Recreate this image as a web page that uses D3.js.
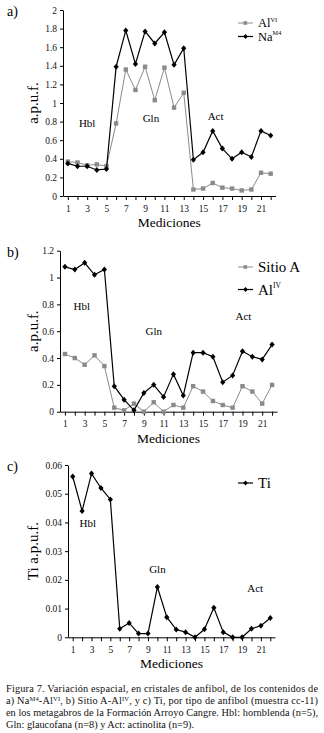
<!DOCTYPE html>
<html>
<head>
<meta charset="utf-8">
<script src="https://cdn.jsdelivr.net/npm/d3@7/dist/d3.min.js"></script>
<style>
  body { margin: 0; background: #fff; }
  svg, svg text { font-family: "Liberation Serif", "Times New Roman", "DejaVu Serif", serif; }
  .axis path, .axis line { stroke: #000; stroke-width: 1; }
  .axis text { font-size: 9.5px; fill: #111; }
</style>
</head>
<body>
<svg id="chart" width="324" height="733"></svg>
<script>
"use strict";

const mediciones = d3.range(1, 23);

// a) Na M4 - Al VI
const alVI = [0.37, 0.36, 0.33, 0.34, 0.32, 0.78, 1.36, 1.14, 1.39, 1.03, 1.38,
  0.95, 1.11, 0.07, 0.08, 0.14, 0.09, 0.08, 0.06, 0.07, 0.25, 0.24];
const naM4 = [0.35, 0.32, 0.32, 0.28, 0.29, 1.39, 1.78, 1.42, 1.77, 1.64, 1.76,
  1.41, 1.59, 0.39, 0.47, 0.70, 0.51, 0.40, 0.47, 0.42, 0.70, 0.65];

// b) Sitio A - Al IV
const sitioA = [0.43, 0.40, 0.35, 0.42, 0.34, 0.03, 0.01, 0.06, 0.00, 0.07, 0.00,
  0.05, 0.03, 0.19, 0.15, 0.08, 0.05, 0.03, 0.19, 0.15, 0.06, 0.20];
const alIV = [1.08, 1.06, 1.11, 1.02, 1.06, 0.19, 0.09, 0.01, 0.14, 0.20, 0.11,
  0.28, 0.12, 0.44, 0.44, 0.41, 0.22, 0.27, 0.45, 0.41, 0.39, 0.50];

// c) Ti
const ti = [0.056, 0.044, 0.057, 0.052, 0.048, 0.003, 0.005, 0.0013, 0.0013, 0.0175, 0.007,
  0.0027, 0.0018, 0.0, 0.0028, 0.0103, 0.0018, 0.0, 0.0, 0.003, 0.004, 0.0067];

const ticksA = [0, 0.2, 0.4, 0.6, 0.8, 1, 1.2, 1.4, 1.6, 1.8, 2];
const ticksB = [0, 0.2, 0.4, 0.6, 0.8, 1, 1.2];
const ticksC = [0, 0.01, 0.02, 0.03, 0.04, 0.05, 0.06];

const caption = [
  "Figura 7. Variación espacial, en cristales de anfibol, de los contenidos de",
  "a) Na<M4>-Al<VI>, b) Sitio A-Al<IV>, y c) Ti, por tipo de anfibol (muestra cc-11)",
  "en los metagabros de la Formación Arroyo Cangre. Hbl: hornblenda (n=5),",
  "Gln: glaucofana (n=8) y Act: actinolita (n=9).",
];

const GRAY = "#8a8a8a";
const svg = d3.select("#chart");

function drawPanel(cfg) {
  const x = d3.scaleLinear().domain([0.5, 22.5]).range([cfg.left, cfg.right]);
  const y = d3.scaleLinear().domain([0, cfg.max]).range([cfg.bottom, cfg.top]);
  const g = svg.append("g");

  g.append("text").attr("x", 7).attr("y", cfg.top + 6)
    .attr("font-size", 14).text(cfg.tag);

  const xAxis = d3.axisBottom(x).tickValues(mediciones).tickSize(4).tickSizeOuter(0)
    .tickFormat((d) => (d % 2 ? d : ""));
  g.append("g").attr("class", "axis").attr("transform", `translate(0,${cfg.bottom})`)
    .call(xAxis)
    .call((s) => s.attr("font-family", null))
    .call((s) => s.selectAll("text").attr("dy", "0.9em"));

  const yAxis = d3.axisLeft(y).tickValues(cfg.ticks).tickSize(3).tickSizeOuter(0)
    .tickFormat((d) => String(+d.toFixed(3)));
  g.append("g").attr("class", "axis").attr("transform", `translate(${cfg.left},0)`)
    .call(yAxis)
    .call((s) => s.attr("font-family", null));

  g.append("text").attr("text-anchor", "middle").attr("font-size", 13.5)
    .attr("x", (cfg.left + cfg.right) / 2).attr("y", cfg.bottom + 31)
    .text("Mediciones");

  g.append("text").attr("text-anchor", "middle").attr("font-size", 15)
    .attr("transform", `translate(38,${(cfg.top + cfg.bottom) / 2}) rotate(-90)`)
    .text(cfg.ylabel);

  cfg.labels.forEach((l) => {
    g.append("text").attr("x", x(l.at)).attr("y", y(l.v))
      .attr("text-anchor", "middle").attr("font-size", 11).text(l.t);
  });

  const line = d3.line().x((d, i) => x(mediciones[i])).y((d) => y(d));

  cfg.series.forEach((s, k) => {
    const sg = g.append("g");
    sg.append("path").datum(s.values).attr("fill", "none")
      .attr("stroke", s.color).attr("stroke-width", s.width).attr("d", line);
    if (s.shape === "square") {
      sg.selectAll("rect").data(s.values).join("rect")
        .attr("x", (d, i) => x(mediciones[i]) - 2.2).attr("y", (d) => y(d) - 2.2)
        .attr("width", 4.4).attr("height", 4.4).attr("fill", s.color);
    } else {
      sg.selectAll("path.m").data(s.values).join("path").attr("class", "m")
        .attr("transform", (d, i) => `translate(${x(mediciones[i])},${y(d)})`)
        .attr("d", "M0,-3L2.6,0L0,3L-2.6,0Z").attr("fill", "#000");
    }

    // legend
    const ly = cfg.legendY + k * cfg.legendGap;
    g.append("line").attr("x1", 238).attr("x2", 253).attr("y1", ly).attr("y2", ly)
      .attr("stroke", s.color).attr("stroke-width", s.width);
    if (s.shape === "square") {
      g.append("rect").attr("x", 243.5).attr("y", ly - 1.8).attr("width", 3.6)
        .attr("height", 3.6).attr("fill", s.color);
    } else {
      g.append("path").attr("transform", `translate(245.5,${ly})`)
        .attr("d", "M0,-2.6L2.3,0L0,2.6L-2.3,0Z").attr("fill", "#000");
    }
    const t = g.append("text").attr("x", 258).attr("y", ly + cfg.legendSize / 3)
      .attr("font-size", cfg.legendSize);
    t.append("tspan").text(s.name);
    if (s.sup) {
      t.append("tspan").attr("font-size", cfg.legendSize / 2).attr("dy", -cfg.legendSize * 0.42)
        .text(s.sup);
    }
  });
}

drawPanel({
  tag: "a)", left: 63, right: 275.5, top: 10, bottom: 196, max: 2, ticks: ticksA,
  ylabel: "a.p.u.f.", legendY: 23, legendGap: 13.5, legendSize: 12.5,
  labels: [{ t: "Hbl", at: 3.0, v: 0.74 }, { t: "Gln", at: 9.6, v: 0.8 }, { t: "Act", at: 16.3, v: 0.82 }],
  series: [
    { name: "Al", sup: "VI", values: alVI, color: GRAY, width: 1, shape: "square" },
    { name: "Na", sup: "M4", values: naM4, color: "#000", width: 1.2, shape: "diamond" },
  ],
});

drawPanel({
  tag: "b)", left: 60, right: 277, top: 250.7, bottom: 411.7, max: 1.2, ticks: ticksB,
  ylabel: "a.p.u.f.", legendY: 267, legendGap: 22.5, legendSize: 15,
  labels: [{ t: "Hbl", at: 2.7, v: 0.76 }, { t: "Gln", at: 10.0, v: 0.57 }, { t: "Act", at: 19.1, v: 0.68 }],
  series: [
    { name: "Sitio A", sup: null, values: sitioA, color: GRAY, width: 1, shape: "square" },
    { name: "Al", sup: "IV", values: alIV, color: "#000", width: 1.2, shape: "diamond" },
  ],
});

drawPanel({
  tag: "c)", left: 68, right: 275, top: 465, bottom: 637.3, max: 0.06, ticks: ticksC,
  ylabel: "Ti a.p.u.f.", legendY: 483, legendGap: 0, legendSize: 15,
  labels: [{ t: "Hbl", at: 2.6, v: 0.0385 }, { t: "Gln", at: 10.0, v: 0.0225 }, { t: "Act", at: 20.4, v: 0.0158 }],
  series: [
    { name: "Ti", sup: null, values: ti, color: "#000", width: 1.2, shape: "diamond" },
  ],
});

// caption, with <..> marking superscripts
const cap = svg.append("g").attr("font-size", 10.3).attr("fill", "#111");
caption.forEach((ln, i) => {
  const t = cap.append("text").attr("x", 6).attr("y", 692 + i * 12);
  if (i < 3) t.attr("textLength", 312).attr("lengthAdjust", "spacing");
  let shift = 0;
  ln.split(/(<[^>]+>)/).filter((p) => p).forEach((part) => {
    const sup = part.startsWith("<");
    const ts = t.append("tspan").text(sup ? part.slice(1, -1) : part);
    if (sup) {
      ts.attr("font-size", 6.5).attr("dy", -3 - shift);
      shift = -3;
    } else if (shift) {
      ts.attr("dy", 3);
      shift = 0;
    }
  });
});
</script>
</body>
</html>
